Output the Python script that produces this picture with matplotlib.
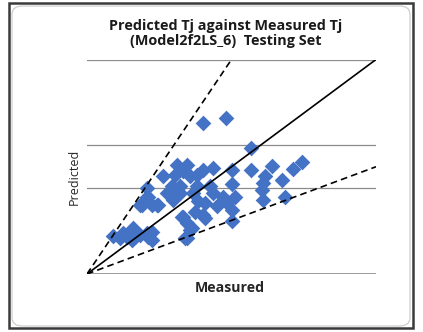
import numpy as np
import matplotlib.pyplot as plt
from matplotlib.patches import Rectangle, FancyBboxPatch

# measured / predicted (normalised)
measured = [0.403, 0.480, 0.567, 0.745, 0.714, 0.639, 0.567, 0.501, 0.616, 0.674,
            0.501, 0.610, 0.604, 0.610, 0.685, 0.512, 0.501, 0.501, 0.437, 0.403,
            0.379, 0.356, 0.333, 0.310, 0.345, 0.304, 0.264, 0.293, 0.322, 0.276,
            0.299, 0.322, 0.206, 0.206, 0.189, 0.224, 0.247, 0.379, 0.368, 0.385,
            0.408, 0.426, 0.437, 0.449, 0.472, 0.483, 0.333, 0.345, 0.356, 0.403,
            0.408, 0.374, 0.345, 0.091, 0.126, 0.149, 0.160, 0.137, 0.166, 0.183,
            0.206, 0.224, 0.224, 0.212, 0.114, 0.155, 0.212, 0.183, 0.241, 0.362,
            0.328, 0.339]
predicted = [0.704, 0.727, 0.587, 0.522, 0.491, 0.505, 0.483, 0.483, 0.455, 0.436,
             0.421, 0.424, 0.393, 0.346, 0.357, 0.361, 0.299, 0.245, 0.494, 0.486,
             0.463, 0.455, 0.478, 0.509, 0.509, 0.463, 0.458, 0.411, 0.408, 0.377,
             0.346, 0.377, 0.400, 0.361, 0.322, 0.322, 0.322, 0.408, 0.377, 0.338,
             0.330, 0.408, 0.377, 0.315, 0.361, 0.330, 0.268, 0.237, 0.206, 0.276,
             0.260, 0.291, 0.167, 0.178, 0.190, 0.198, 0.213, 0.174, 0.174, 0.182,
             0.190, 0.198, 0.159, 0.174, 0.167, 0.159, 0.361, 0.322, 0.322, 0.213,
             0.268, 0.167]
grid_y = [0.4, 0.6, 1.0]

fig = plt.figure(figsize=(4.23, 3.32), dpi=100)

# chart border
fig.patches.append(Rectangle((9 / 423, 4 / 332), 404 / 423, 325 / 332, transform=fig.transFigure,
                             fill=False, edgecolor='#3a3a3a', linewidth=1.8))
fig.patches.append(FancyBboxPatch((12 / 423, 6 / 332), 398 / 423, 320 / 332,
                                  boxstyle='round,pad=0,rounding_size=0.025',
                                  transform=fig.transFigure, fill=False,
                                  edgecolor='#c8c8c8', linewidth=0.8))

ax = fig.add_axes([87 / 423, (332 - 274) / 332, 289 / 423, 214.5 / 332])
ax.set_xlim(0, 1)
ax.set_ylim(0, 1)
for s in ax.spines.values():
    s.set_visible(False)
ax.set_xticks([])
ax.set_yticks([])

ax.axhline(0, color='#7f7f7f', lw=1.1, zorder=1)
for g in grid_y:
    ax.axhline(g, color='#8c8c8c', lw=0.9, zorder=1)

ax.scatter(measured, predicted, marker='D', s=64, color='#4472C4', linewidths=0, zorder=2)

ax.plot([0, 1], [0, 1], color='black', lw=1.2, zorder=3)
ax.plot([0, 0.5], [0, 1], color='black', lw=1.2, ls=(0, (4, 2.5)), zorder=3)
ax.plot([0, 1], [0, 0.5], color='black', lw=1.2, ls=(0, (4, 2.5)), zorder=3)

fig.text(226 / 423, 1 - 26 / 332, 'Predicted Tj against Measured Tj', ha='center', va='center',
         fontsize=10.4, fontweight='bold', family='Open Sans', color='#1a1a1a')
fig.text(226 / 423, 1 - 41 / 332, '(Model2f2LS_6)  Testing Set', ha='center', va='center',
         fontsize=10.4, fontweight='bold', family='Open Sans', color='#1a1a1a')
fig.text(230 / 423, 1 - 288 / 332, 'Measured', ha='center', va='center',
         fontsize=10.2, fontweight='bold', family='Open Sans', color='#262626')
fig.text(74 / 423, 1 - 177 / 332, 'Predicted', ha='center', va='center', rotation=90,
         fontsize=9, family='Open Sans', color='#262626')

fig.savefig('out.png', dpi=100)
